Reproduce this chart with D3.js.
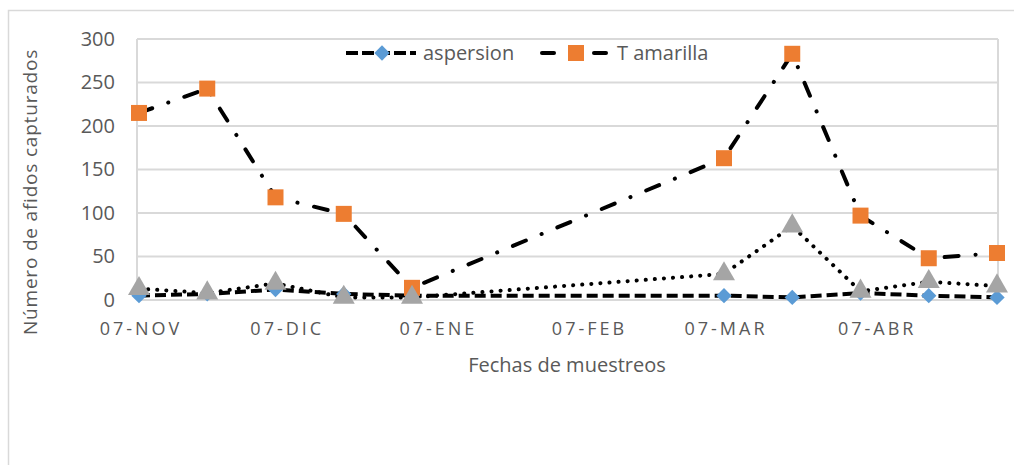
<!DOCTYPE html>
<html>
<head>
<meta charset="utf-8">
<script src="https://cdn.jsdelivr.net/npm/d3@7"></script>
<style>
  html, body { margin: 0; padding: 0; background: #fff; }
  svg { display: block; font-family: 'Open Sans', sans-serif; }
</style>
</head>
<body>
<svg id="chart" width="1014" height="465"></svg>
<script>
// sampling dates (biweekly, gap over the summer holidays)
const sampleDates = [
  '2016-11-07', '2016-11-21', '2016-12-05', '2016-12-19', '2017-01-02',
  '2017-03-07', '2017-03-21', '2017-04-04', '2017-04-18', '2017-05-02'
]
const tickDates = ['2016-11-07', '2016-12-07', '2017-01-07', '2017-02-07', '2017-03-07', '2017-04-07']
const yTicks = [0, 50, 100, 150, 200, 250, 300]

const aspersion = [5, 7, 12, 7, 5, 5, 3, 8, 5, 3]
const tAmarilla = [215, 243, 118, 99, 14, 163, 283, 97, 48, 54]
const tercera = [13, 8, 19, 3, 3, 30, 85, 10, 21, 16]

const seriesNames = ['aspersion', 'T amarilla', '']

const parseDate = d3.timeParse('%Y-%m-%d')
const esLocale = d3.timeFormatLocale({
  dateTime: '%A, %e de %B de %Y, %X',
  date: '%d/%m/%Y',
  time: '%H:%M:%S',
  periods: ['AM', 'PM'],
  days: ['domingo', 'lunes', 'martes', 'miércoles', 'jueves', 'viernes', 'sábado'],
  shortDays: ['dom', 'lun', 'mar', 'mié', 'jue', 'vie', 'sáb'],
  months: ['enero', 'febrero', 'marzo', 'abril', 'mayo', 'junio', 'julio', 'agosto', 'septiembre', 'octubre', 'noviembre', 'diciembre'],
  shortMonths: ['ene', 'feb', 'mar', 'abr', 'may', 'jun', 'jul', 'ago', 'sep', 'oct', 'nov', 'dic']
})
const fmtTick = esLocale.format('%d-%b')

const svg = d3.select('#chart')
const gridColor = '#d9d9d9'
const textColor = '#595959'

const plot = { left: 139, right: 997, top: 39, bottom: 300 }

const dates = sampleDates.map(parseDate)

const x = d3.scaleTime()
  .domain(d3.extent(dates))
  .range([plot.left, plot.right])

const y = d3.scaleLinear()
  .domain([0, 300])
  .range([plot.bottom, plot.top])

// outer chart frame
svg.append('rect')
  .attr('x', 8.5).attr('y', 10.5)
  .attr('width', 1012).attr('height', 462)
  .attr('fill', 'none')
  .attr('stroke', gridColor)
  .attr('stroke-width', 1.5)

// gridlines
svg.append('g')
  .selectAll('line')
  .data(yTicks)
  .join('line')
  .attr('x1', plot.left - 2)
  .attr('x2', plot.right + 1)
  .attr('y1', (d) => y(d))
  .attr('y2', (d) => y(d))
  .attr('stroke', gridColor)
  .attr('stroke-width', 2)

// plot area side borders
svg.append('g')
  .selectAll('line')
  .data([plot.left - 2, plot.right + 1])
  .join('line')
  .attr('x1', (d) => d).attr('x2', (d) => d)
  .attr('y1', plot.top).attr('y2', plot.bottom)
  .attr('stroke', gridColor)
  .attr('stroke-width', 2)

// y axis
const yAxis = svg.append('g')
  .attr('transform', `translate(${plot.left},0)`)
  .call(d3.axisLeft(y).tickValues(yTicks).tickSize(0).tickPadding(24))
yAxis.select('.domain').remove()
yAxis.selectAll('text')
  .attr('fill', textColor)
  .style('font-size', '20px')
  .style('font-family', 'Open Sans, sans-serif')

// x axis
const xAxis = svg.append('g')
  .attr('transform', `translate(0,${plot.bottom})`)
  .call(d3.axisBottom(x)
    .tickValues(tickDates.map(parseDate))
    .tickFormat((d) => fmtTick(d).toUpperCase())
    .tickSize(0)
    .tickPadding(22))
xAxis.select('.domain').remove()
xAxis.selectAll('text')
  .attr('fill', textColor)
  .attr('dx', '1.5px')
  .style('font-size', '18px')
  .style('letter-spacing', '3px')
  .style('font-family', 'Open Sans, sans-serif')

// axis titles
svg.append('text')
  .attr('x', 567)
  .attr('y', 372)
  .attr('text-anchor', 'middle')
  .attr('fill', textColor)
  .style('font-size', '20px')
  .text('Fechas de muestreos')

svg.append('text')
  .attr('transform', 'translate(37,192) rotate(-90)')
  .attr('text-anchor', 'middle')
  .attr('fill', textColor)
  .style('font-size', '19px')
  .style('letter-spacing', '0.8px')
  .text('Número de afidos capturados')

// series
const series = [
  { name: seriesNames[0], values: aspersion, color: '#5b9bd5', marker: 'diamond', dash: '11,5', cap: 'butt' },
  { name: seriesNames[1], values: tAmarilla, color: '#ed7d31', marker: 'square', dash: '14,17,0.1,17', cap: 'round' },
  { name: seriesNames[2], values: tercera, color: '#a5a5a5', marker: 'triangle', dash: '0.1,9', cap: 'round' }
]

const line = d3.line()
  .x((d) => x(d.date))
  .y((d) => y(d.value))

const symbolFor = {
  diamond: d3.symbol().type(d3.symbolDiamond2).size(150),
  square: d3.symbol().type(d3.symbolSquare).size(256),
  triangle: d3.symbol().type(d3.symbolTriangle).size(210)
}

series.forEach((s) => {
  s.points = s.values.map((v, i) => ({ date: dates[i], value: v }))
})

svg.append('g')
  .selectAll('path')
  .data(series)
  .join('path')
  .attr('d', (s) => line(s.points))
  .attr('fill', 'none')
  .attr('stroke', '#000')
  .attr('stroke-width', 4)
  .attr('stroke-dasharray', (s) => s.dash)
  .attr('stroke-linecap', (s) => s.cap)

series.forEach((s) => {
  svg.append('g')
    .selectAll('path')
    .data(s.points)
    .join('path')
    .attr('transform', (d) => `translate(${x(d.date)},${y(d.value)})`)
    .attr('d', symbolFor[s.marker])
    .attr('fill', s.color)
})

// legend (only the first two series are shown)
const legendItems = [
  { s: series[0], x0: 346, textX: 423 },
  { s: series[1], x0: 540, textX: 617 }
]
const legendY = 53

legendItems.forEach((item) => {
  const g = svg.append('g')
  if (item.s.marker === 'square') {
    [[0, 16], [52, 68]].forEach(([a, b]) => {
      g.append('line')
        .attr('x1', item.x0 + a + 2).attr('x2', item.x0 + b - 2)
        .attr('y1', legendY).attr('y2', legendY)
        .attr('stroke', '#000')
        .attr('stroke-width', 4)
        .attr('stroke-linecap', 'round')
    })
  } else {
    g.append('line')
      .attr('x1', item.x0).attr('x2', item.x0 + 70)
      .attr('y1', legendY).attr('y2', legendY)
      .attr('stroke', '#000')
      .attr('stroke-width', 4)
      .attr('stroke-dasharray', '12,4')
  }
  g.append('path')
    .attr('transform', `translate(${item.x0 + 36},${legendY})`)
    .attr('d', symbolFor[item.s.marker])
    .attr('fill', item.s.color)
  g.append('text')
    .attr('x', item.textX)
    .attr('y', legendY)
    .attr('dy', '0.35em')
    .attr('fill', textColor)
    .style('font-size', '20px')
    .text(item.s.name)
})
</script>
</body>
</html>
